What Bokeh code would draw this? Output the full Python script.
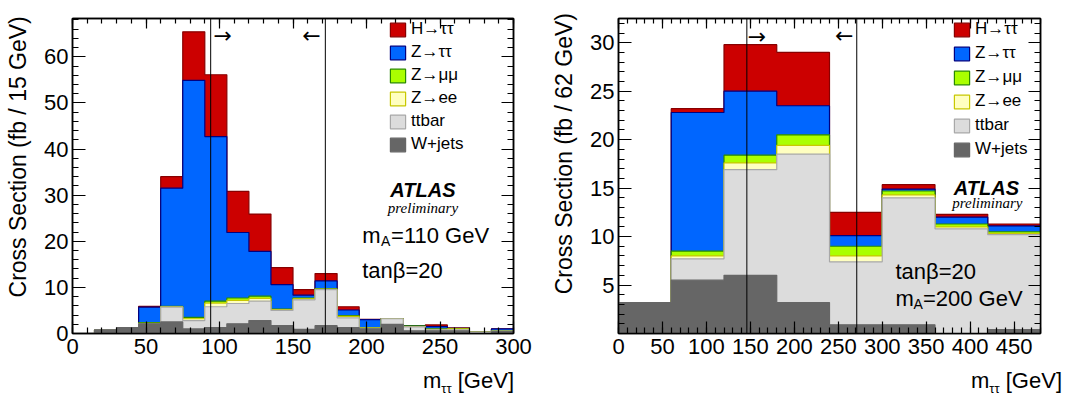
import numpy as np
from math import pi
from bokeh.plotting import figure
from bokeh.models import (Label, Span, Legend, LegendItem, LinearAxis, FixedTicker,
                          CustomLabelingPolicy, Div)
from bokeh.layouts import row, column
from bokeh.embed import file_html
from bokeh.resources import INLINE

FONT = "Liberation Sans"

# ---------------- data ----------------
series_names = ["W+jets", "ttbar", "Z\u2192ee", "Z\u2192\u03bc\u03bc", "Z\u2192\u03c4\u03c4", "H\u2192\u03c4\u03c4"]
fill_colors = ["#666666", "#dcdcdc", "#ffffc0", "#aaff00", "#0066ff", "#cc0000"]
line_colors = ["#666666", "#a8a8a8", "#c8c800", "#2a8a00", "#000080", "#880000"]

# left panel: m_A = 110 GeV, 15 GeV bins
left_edges = list(range(0, 301, 15))
left_wjets = [0, 0.8, 1.3, 2.1, 2.5, 1.0, 1.3, 2.1, 2.8, 1.7, 0.9, 1.7, 1.3, 1.0, 2.0, 0.6, 0.6, 0.6, 0.0, 0.4]
left_ttbar = [0, 0, 0, 0, 3.2, 1.8, 4.5, 4.4, 4.2, 3.3, 6.4, 7.8, 2.1, 0.1, 1.2, 0.85, 0.2, 0.2, 0.3, 0.1]
left_zee = [0, 0, 0, 0.1, 0.1, 0.4, 0.8, 0.7, 0.6, 0.2, 0.2, 0.1, 0.3, 0.1, 0, 0.05, 0.1, 0.2, 0, 0]
left_zmumu = [0, 0, 0, 0.15, 0.1, 0.3, 0.4, 0.5, 0.5, 0.1, 0.2, 0.1, 0.2, 0.1, 0.05, 0.15, 0.1, 0.05, 0, 0.05]
left_ztautau = [0, 0, 0, 3.35, 25.6, 51.4, 35.7, 14.2, 9.7, 5.3, 0.6, 1.7, 1.2, 1.7, 0, 0, 0.5, 0.05, 0, 0.45]
left_htautau = [0, 0, 0, 0.2, 2.5, 10.5, 13.4, 8.9, 8.1, 3.7, 1.2, 1.6, 0.7, 0.05, 0, 0, 0.35, 0.1, 0, 0]
left_cuts = [94, 172]

# right panel: m_A = 200 GeV, 60 GeV bins
right_edges = list(range(0, 481, 60))
right_wjets = [3.2, 5.5, 6.0, 3.2, 0.9, 0.9, 0.0, 0.4]
right_ttbar = [0, 2.2, 10.9, 15.3, 6.5, 13.1, 10.8, 9.8]
right_zee = [0, 0.3, 0.7, 0.9, 0.6, 0.3, 0.2, 0.1]
right_zmumu = [0, 0.5, 0.8, 1.1, 1.0, 0.4, 0.3, 0.2]
right_ztautau = [0, 14.3, 6.6, 3.0, 1.1, 0.2, 0.7, 0.6]
right_htautau = [0, 0.4, 4.8, 5.5, 2.4, 0.45, 0.3, 0.2]
right_cuts = [146, 271]

left_x_ticks = list(range(0, 301, 50))
left_y_ticks = list(range(0, 61, 10))
right_x_ticks = list(range(0, 451, 50))
right_y_ticks = list(range(5, 31, 5))

FIG_H = 372
NBSP = "\u00a0"


def make_fig(width, xr, yr, mb_left, mb_right, mb_bottom, xt, xminor, yt, yminor,
             ylabel, ylabel_standoff):
    p = figure(width=width, height=FIG_H, x_range=xr, y_range=yr,
               output_backend="svg", toolbar_location=None,
               min_border_left=mb_left, min_border_right=mb_right,
               min_border_top=3, min_border_bottom=mb_bottom)
    p.xgrid.visible = False
    p.ygrid.visible = False
    p.outline_line_color = "black"
    p.outline_line_width = 1.5
    p.background_fill_color = "white"
    p.border_fill_color = "white"
    xtick = FixedTicker(ticks=xt, minor_ticks=xminor)
    ytick = FixedTicker(ticks=yt, minor_ticks=yminor)
    bx = p.below[0]
    ly = p.left[0]
    bx.ticker = xtick
    ly.ticker = ytick
    top = LinearAxis(ticker=xtick)
    right = LinearAxis(ticker=ytick)
    p.add_layout(top, "above")
    p.add_layout(right, "right")
    for ax in [bx, ly, top, right]:
        ax.major_tick_out = 0
        ax.minor_tick_out = 0
        ax.axis_line_width = 1.5
        ax.major_tick_line_width = 1.2
        ax.minor_tick_line_width = 1.2
        ax.axis_line_color = "black"
        ax.major_tick_line_color = "black"
        ax.minor_tick_line_color = "black"
        ax.major_label_text_font = FONT
        ax.major_label_text_font_size = "22px"
        ax.major_label_text_color = "black"
    bx.major_tick_in = 12
    bx.minor_tick_in = 6
    bx.major_label_standoff = 5
    ly.major_tick_in = 13
    ly.minor_tick_in = 6
    ly.major_label_standoff = 4
    ly.axis_label = ylabel
    ly.axis_label_text_font = FONT
    ly.axis_label_text_font_size = "23px"
    ly.axis_label_text_font_style = "normal"
    ly.axis_label_text_color = "black"
    ly.axis_label_standoff = ylabel_standoff
    top.major_tick_in = 10
    top.minor_tick_in = 5
    right.major_tick_in = 12
    right.minor_tick_in = 6
    for ax in [top, right]:
        ax.major_label_policy = CustomLabelingPolicy(code="for (const i of indices) { if (false) yield i }")
        ax.major_label_standoff = 0
    return p


def draw_stack(p, edges, comps):
    cum = np.cumsum(np.array(comps, dtype=float), axis=0)
    rends = [None] * len(comps)
    for k in reversed(range(len(comps))):
        top = cum[k]
        xs = [edges[0]]
        ys = [0.0]
        for i in range(len(top)):
            xs += [edges[i], edges[i + 1]]
            ys += [top[i], top[i]]
        xs.append(edges[-1])
        ys.append(0.0)
        rends[k] = p.patch(xs, ys, fill_color=fill_colors[k], line_color=line_colors[k], line_width=1.2)
    return rends


def add_legend(p, rends, loc, spacing):
    items = [LegendItem(label=series_names[k], renderers=[rends[k]]) for k in reversed(range(len(rends)))]
    lg = Legend(items=items, location=loc, orientation="vertical",
                glyph_width=19, glyph_height=17, label_height=17, spacing=spacing,
                padding=0, margin=0, label_standoff=4,
                label_text_font=FONT, label_text_font_size="17px", label_text_color="black",
                border_line_color=None, background_fill_alpha=0)
    p.add_layout(lg)


def txt(p, conv, px, py, text, size, align="left", angle=0, font=FONT, style="normal"):
    x, y = conv(px, py)
    p.add_layout(Label(x=x, y=y, text=text, text_font=font, text_font_size=f"{size}px",
                       text_align=align, text_baseline="middle", angle=angle,
                       text_font_style=style, text_color="black"))


def xlabel_div(width, right_edge):
    html = ('<div style="width:%dpx; text-align:right; font-family:\'Liberation Sans\', Arial, sans-serif; '
            'font-size:22px; line-height:18px; color:black; white-space:nowrap;">'
            'm<span style="font-size:13px; position:relative; top:5px;">\u03c4\u03c4</span> [GeV]</div>' % right_edge)
    return Div(text=html, width=width, height=402 - FIG_H, margin=0)


# ---------------- left panel ----------------
L_X0, L_X1, L_YB, L_YT = 72, 515, 333, 3
L_XMAX, L_YMAX = 300, 68.3


def lconv(px, py):
    return (px - L_X0) * L_XMAX / (L_X1 - L_X0), (L_YB - py) * L_YMAX / (L_YB - L_YT)


p1 = make_fig(540, (0, L_XMAX), (0, L_YMAX), 72, 25, FIG_H - L_YB,
              left_x_ticks, list(range(0, 301, 10)), left_y_ticks, list(range(0, 69, 2)),
              NBSP * 6 + "Cross Section (fb / 15 GeV)", 10)
r1 = draw_stack(p1, left_edges, [left_wjets, left_ttbar, left_zee, left_zmumu, left_ztautau, left_htautau])
for c in left_cuts:
    p1.add_layout(Span(location=c, dimension="height", line_color="black", line_width=1))
add_legend(p1, r1, (316, 179), 3)
txt(p1, lconv, 223, 21, "\u2192", 22, align="center", font="DejaVu Sans")
txt(p1, lconv, 312, 21, "\u2190", 22, align="center", font="DejaVu Sans")
txt(p1, lconv, 424, 183, "ATLAS", 20, align="center", style="bold italic")
txt(p1, lconv, 424, 201, "preliminary", 15, align="center", font="Liberation Serif", style="italic")
txt(p1, lconv, 363, 230, "m", 22)
txt(p1, lconv, 382, 236, "A", 14)
txt(p1, lconv, 392, 230, "=110 GeV", 22)
txt(p1, lconv, 363, 267, "tan\u03b2=20", 22)

# ---------------- right panel ----------------
R_X0, R_X1, R_YB, R_YT = 618, 1063, 336, 3
R_XMAX, R_YMAX = 480, 32.5


def rconv(px, py):
    return (px - R_X0) * R_XMAX / (R_X1 - R_X0), (R_YB - py) * R_YMAX / (R_YB - R_YT)


p2 = make_fig(527, (0, R_XMAX), (0, R_YMAX), 78, 4, FIG_H - R_YB,
              right_x_ticks, list(range(0, 481, 10)), right_y_ticks, list(range(0, 33, 1)),
              NBSP * 7 + "Cross Section (fb / 62 GeV)", 10)
r2 = draw_stack(p2, right_edges, [right_wjets, right_ttbar, right_zee, right_zmumu, right_ztautau, right_htautau])
for c in right_cuts:
    p2.add_layout(Span(location=c, dimension="height", line_color="black", line_width=1))
add_legend(p2, r2, (334, 174), 4)
txt(p2, rconv, 764, 22, "\u2192", 22, align="center", font="DejaVu Sans")
txt(p2, rconv, 856, 21, "\u2190", 22, align="center", font="DejaVu Sans")
txt(p2, rconv, 1006, 182, "ATLAS", 20, align="center", style="bold italic")
txt(p2, rconv, 1007, 198, "preliminary", 15, align="center", font="Liberation Serif", style="italic")
txt(p2, rconv, 910, 270, "tan\u03b2=20", 22)
txt(p2, rconv, 910, 299, "m", 22)
txt(p2, rconv, 929, 305, "A", 14)
txt(p2, rconv, 939, 299, "=200 GeV", 22)

layout = column(row(p1, p2), row(xlabel_div(540, 514), xlabel_div(527, 522)))
open("out.html", "w").write(file_html(layout, INLINE))
